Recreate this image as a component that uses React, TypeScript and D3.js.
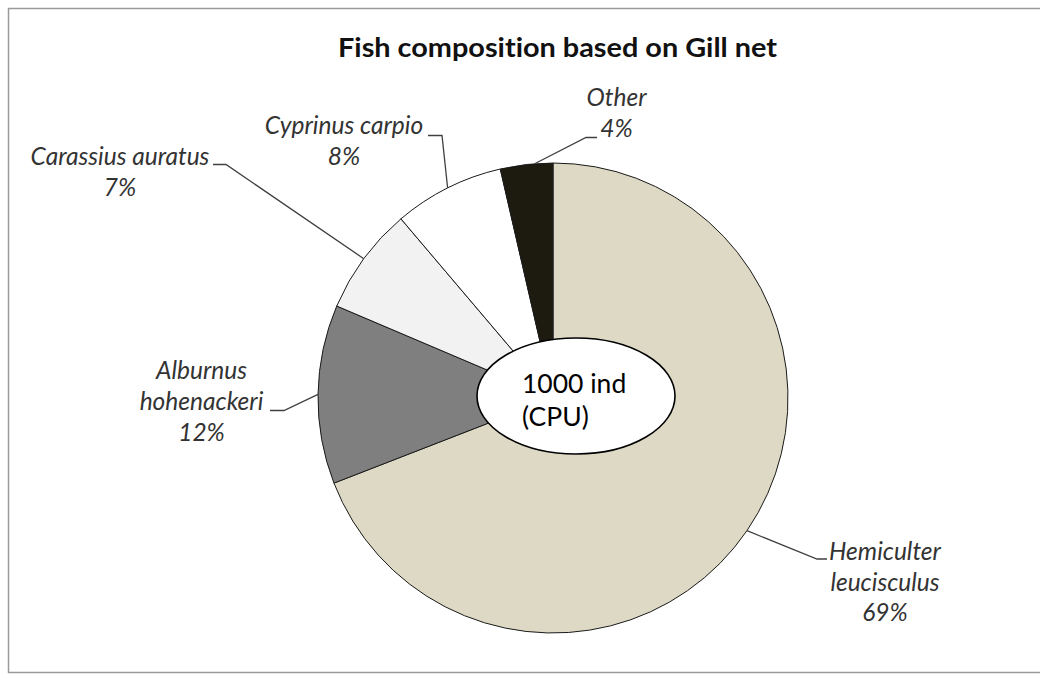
import React from "react";
import * as d3 from "d3";

// ---- data ----
const species = [
  "Hemiculter leucisculus",
  "Alburnus hohenackeri",
  "Carassius auratus",
  "Cyprinus carpio",
  "Other",
];
const labelLines = [
  ["Hemiculter", "leucisculus"],
  ["Alburnus", "hohenackeri"],
  ["Carassius auratus"],
  ["Cyprinus carpio"],
  ["Other"],
];
const shares = [69.1, 12.3, 7.4, 7.6, 3.6];
const sliceColors = ["#DDD9C4", "#7F7F7F", "#F2F2F2", "#FFFFFF", "#1D1B10"];
const title = "Fish composition based on Gill net";
const centerNote = ["1000 ind", "(CPU)"];

// ---- layout (positions of labels and leader elbows) ----
const W = 1040;
const H = 677;
const CX = 553;
const CY = 398;
const R = 235;
const LINE_H = 30.7;
const labelLayout = [
  { x: 885, y: 560, elbow: [817, 559], end: [827, 559] },
  { x: 201.5, y: 379.3, elbow: [284, 410.5], end: [270, 410.5] },
  { x: 120, y: 165, elbow: [226, 164.5], end: [213, 164.5] },
  { x: 344, y: 134, elbow: [442, 135.5], end: [428, 135.5] },
  { x: 616.5, y: 106, elbow: [586, 137.5], end: [597, 137.5] },
];

export default function App() {
  const pie = d3
    .pie<number>()
    .sort(null)
    .value((d) => d)
    .startAngle(0)
    .endAngle(2 * Math.PI);
  const arcs = pie(shares);
  const arc = d3.arc<d3.PieArcDatum<number>>().innerRadius(0).outerRadius(R);
  const edge = (a: d3.PieArcDatum<number>, i: number) => {
    const m = (a.startAngle + a.endAngle) / 2 + (i === 4 ? 0.035 : 0);
    return [CX + R * Math.sin(m), CY - R * Math.cos(m)];
  };
  const line = d3.line();

  return (
    <svg
      width={W}
      height={H}
      style={{ position: "absolute", left: 0, top: 0, fontVariantLigatures: "none" }}
      fontFamily="Lato, 'Open Sans', sans-serif"
    >
      <rect x={0} y={0} width={W} height={H} fill="#ffffff" />
      <rect
        x={8.5}
        y={8.5}
        width={W + 20}
        height={664}
        fill="#ffffff"
        stroke="#9a9a9a"
        strokeWidth={1.5}
      />
      <text
        x={557.5}
        y={57}
        textAnchor="middle"
        fontWeight="bold"
        fontSize={27}
        textLength={439}
        lengthAdjust="spacingAndGlyphs"
        fill="#111"
      >
        {title}
      </text>

      <g transform={`translate(${CX},${CY})`}>
        {arcs.map((a, i) => (
          <path
            key={species[i]}
            d={arc(a) || ""}
            fill={sliceColors[i]}
            stroke="#1a1a1a"
            strokeWidth={1}
          />
        ))}
      </g>

      {arcs.map((a, i) => {
        const L = labelLayout[i];
        const p = edge(a, i);
        return (
          <path
            key={"lead" + i}
            d={line([p as [number, number], L.elbow as [number, number], L.end as [number, number]]) || ""}
            fill="none"
            stroke="#404040"
            strokeWidth={1.3}
          />
        );
      })}

      {arcs.map((a, i) => {
        const L = labelLayout[i];
        const lines = [...labelLines[i], `${Math.round(shares[i])}%`];
        return (
          <text
            key={"lab" + i}
            textAnchor="middle"
            fontStyle="italic"
            fontSize={24.5}
            fill="#333333"
          >
            {lines.map((t, j) => (
              <tspan key={j} x={L.x} y={L.y + j * LINE_H}>
                {t}
              </tspan>
            ))}
          </text>
        );
      })}

      <ellipse
        cx={576}
        cy={396}
        rx={99}
        ry={58}
        fill="#ffffff"
        stroke="#000"
        strokeWidth={1.6}
      />
      <text fontSize={26.5} fill="#000">
        {centerNote.map((t, j) => (
          <tspan key={j} x={522} y={392.7 + j * 33.5}>
            {t}
          </tspan>
        ))}
      </text>
    </svg>
  );
}
